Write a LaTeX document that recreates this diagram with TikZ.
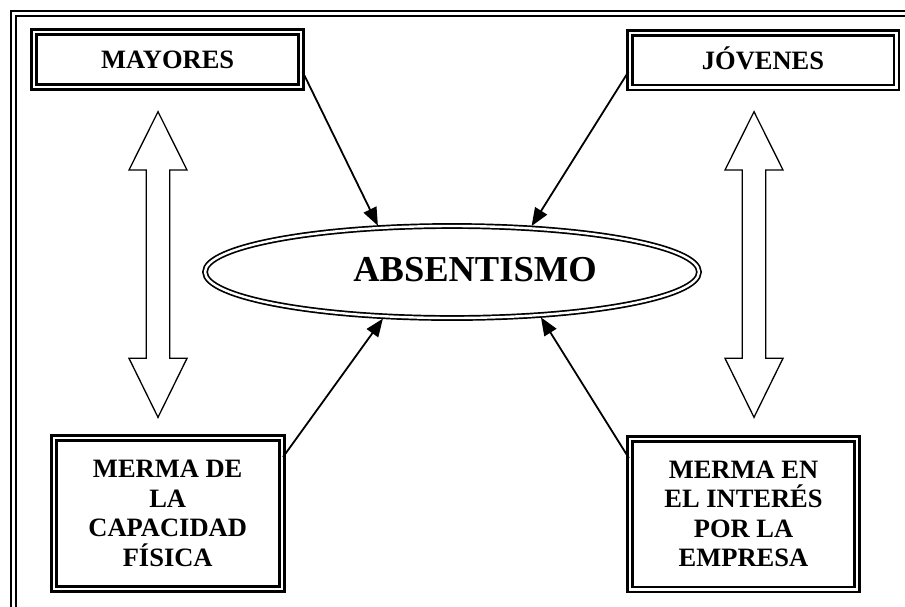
\documentclass[tikz,border=0pt]{standalone}
\usepackage{fontspec}
\setmainfont{Liberation Serif}
\usepackage{tikz}
\usetikzlibrary{shapes.geometric, arrows.meta}

\begin{document}
\begin{tikzpicture}[x=1pt, y=-1pt,
  dbox/.style={draw, double, line width=2.6pt, double distance=2.4pt, inner sep=0pt,
    align=center, font=\bfseries\fontsize{26.5}{29.5}\selectfont},
  thinarrow/.style={-{Triangle[length=18pt, width=14pt]}, line width=1.8pt},
  hollow/.style={draw, line width=1.3pt, line join=miter}]
\useasboundingbox (0,0) rectangle (905,606);

% frame, cut by the page on the right and at the bottom
\begin{scope}
\clip (0,0) rectangle (905,606);
\draw[double, line width=2.2pt, double distance=2.4pt] (13.3,13.3) rectangle (940,640);
\end{scope}

\node (may) at (167.7,59.7) [dbox, minimum width=267pt, minimum height=55pt,
  text height=18pt, text depth=0pt] {MAYORES};
\node (jov) at (763,60) [dbox, minimum width=266.6pt, minimum height=54.6pt,
  text height=18pt, text depth=0pt] {JÓVENES};
\node (cap) at (167.7,513.3) [dbox, minimum width=228pt, minimum height=151pt]
  {MERMA DE\\LA\\CAPACIDAD\\FÍSICA};
\node (emp) at (743.5,514) [dbox, minimum width=226.6pt, minimum height=150.6pt]
  {MERMA EN\\EL INTERÉS\\POR LA\\EMPRESA};

\node (abs) at (452,272) [draw, double, ellipse, line width=1.7pt, double distance=2.4pt,
  minimum width=494pt, minimum height=92pt, inner sep=0pt, outer sep=2.5pt, text depth=6pt,
  font=\bfseries\fontsize{36.5}{40}\selectfont] {\hspace*{46pt}ABSENTISMO};

\draw[thinarrow] (may.-5) -- (abs.148);
\draw[thinarrow] (jov.185) -- (abs.30);
\draw[thinarrow] (cap.26) -- (abs.214);
\draw[thinarrow] (emp.154) -- (abs.-27);

% hollow up-down arrows
\foreach \cx in {158,754}
  \draw[hollow] (\cx,111.7) -- ++(29,58.3) -- ++(-17.3,0) -- ++(0,188.3) -- ++(17.3,0)
    -- (\cx,417.3) -- ++(-29,-59) -- ++(17.3,0) -- ++(0,-188.3) -- ++(-17.3,0) -- cycle;

\end{tikzpicture}
\end{document}
